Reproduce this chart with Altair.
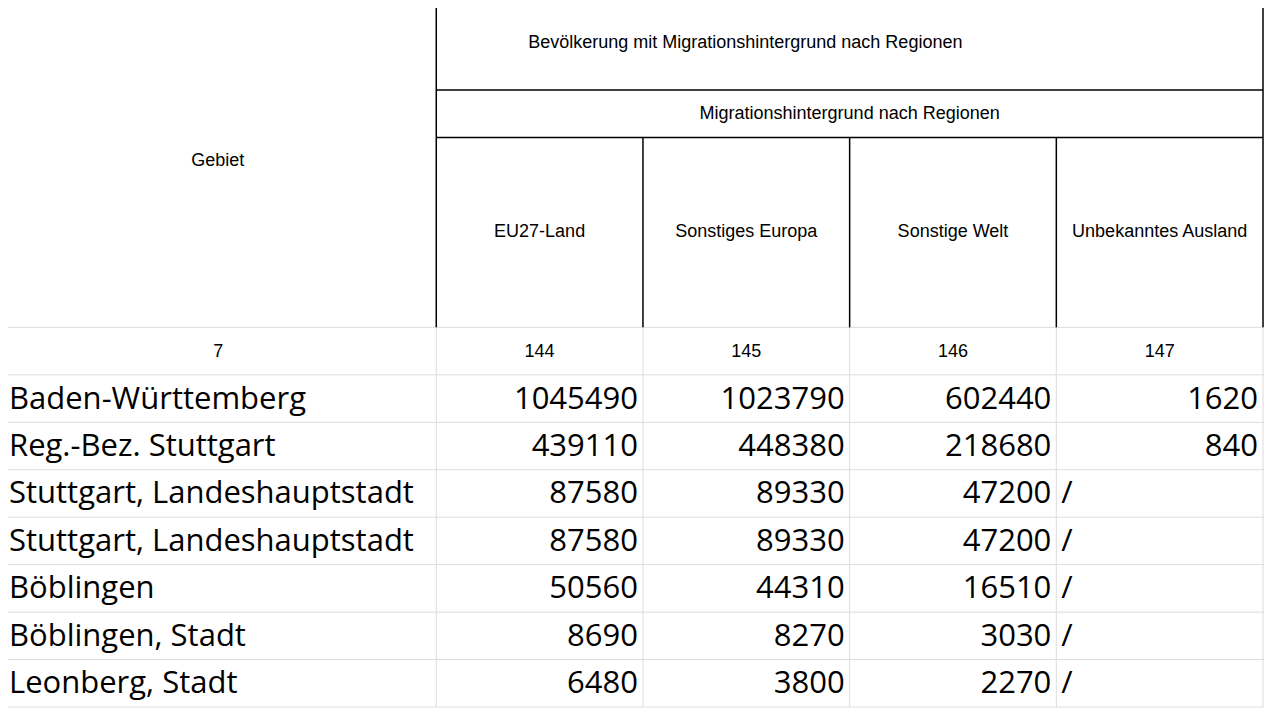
import altair as alt
import pandas as pd

title = "Bevölkerung mit Migrationshintergrund nach Regionen"
subtitle = "Migrationshintergrund nach Regionen"
first_header = "Gebiet"
col_names = ["EU27-Land", "Sonstiges Europa", "Sonstige Welt", "Unbekanntes Ausland"]
col_nums = ["7", "144", "145", "146", "147"]
areas = ["Baden-Württemberg", "Reg.-Bez. Stuttgart", "Stuttgart, Landeshauptstadt",
         "Stuttgart, Landeshauptstadt", "Böblingen", "Böblingen, Stadt", "Leonberg, Stadt"]
eu27 = [1045490, 439110, 87580, 87580, 50560, 8690, 6480]
sonst_europa = [1023790, 448380, 89330, 89330, 44310, 8270, 3800]
sonst_welt = [602440, 218680, 47200, 47200, 16510, 3030, 2270]
unbekannt = ["1620", "840", "/", "/", "/", "/", "/"]

# layout (pixel coordinates of the screenshot)
W, H = 1272, 718
xb = [0, 439, 647, 855, 1063, 1271]
y_title, y_sub, y_hdr, y_num = 91, 139, 331, 379
rh = 48

X = alt.Scale(domain=[8, W], range=[0, 1256])
Y = alt.Scale(domain=[8, H], range=[0, 702])

def seg(rows, color, width):
    df = pd.DataFrame(rows, columns=["x", "y", "x2", "y2"])
    return alt.Chart(df).mark_rule(color=color, strokeWidth=width).encode(
        x=alt.X("x:Q", scale=X, axis=None), y=alt.Y("y:Q", scale=Y, axis=None),
        x2="x2:Q", y2="y2:Q")

n = len(areas)
bottom = y_num + n * rh
gray = []
for i in range(n + 2):
    yy = y_hdr + i * rh
    gray.append([8, yy, W, yy])
for xx in xb[1:]:
    gray.append([xx, y_hdr, xx, bottom])
black = [[439, 8, 439, y_hdr], [1271, 8, 1271, y_hdr],
         [439, y_title, 1271, y_title], [439, y_sub, 1271, y_sub]]
for xx in xb[2:5]:
    black.append([xx, y_sub, xx, y_hdr])

def txt(rows, size, align, font):
    df = pd.DataFrame(rows, columns=["x", "y", "t"])
    return alt.Chart(df).mark_text(fontSize=size, align=align, baseline="middle",
                                   font=font, color="black").encode(
        x=alt.X("x:Q", scale=X, axis=None), y=alt.Y("y:Q", scale=Y, axis=None), text="t:N")

hdr_font = "Liberation Sans"
center_rows = [[750, 43, title], [855, 115, subtitle], [219, 163, first_header]]
for i, c in enumerate(col_names):
    center_rows.append([(xb[i + 1] + xb[i + 2]) / 2, 235, c])
for i, c in enumerate(col_nums):
    center_rows.append([(xb[i] + xb[i + 1]) / 2, 356, c])

left_rows, right_rows = [], []
for r in range(n):
    yc = y_num + r * rh + 25
    left_rows.append([9, yc, areas[r]])
    for j, v in enumerate([eu27[r], sonst_europa[r], sonst_welt[r]]):
        right_rows.append([xb[j + 2] - 5, yc, str(v)])
    u = unbekannt[r]
    if u == "/":
        left_rows.append([xb[4] + 5, yc, u])
    else:
        right_rows.append([xb[5] - 5, yc, u])

chart = alt.layer(
    seg(gray, "#dcdcdc", 1), seg(black, "black", 1.5),
    txt(center_rows, 18, "center", hdr_font),
    txt(left_rows, 31, "left", "Open Sans"),
    txt(right_rows, 31, "right", "Open Sans"),
).properties(width=1256, height=702, padding=0, autosize="none"
).configure_view(stroke=None)

chart.save("out.html", embed_options={"renderer": "svg", "actions": False})
